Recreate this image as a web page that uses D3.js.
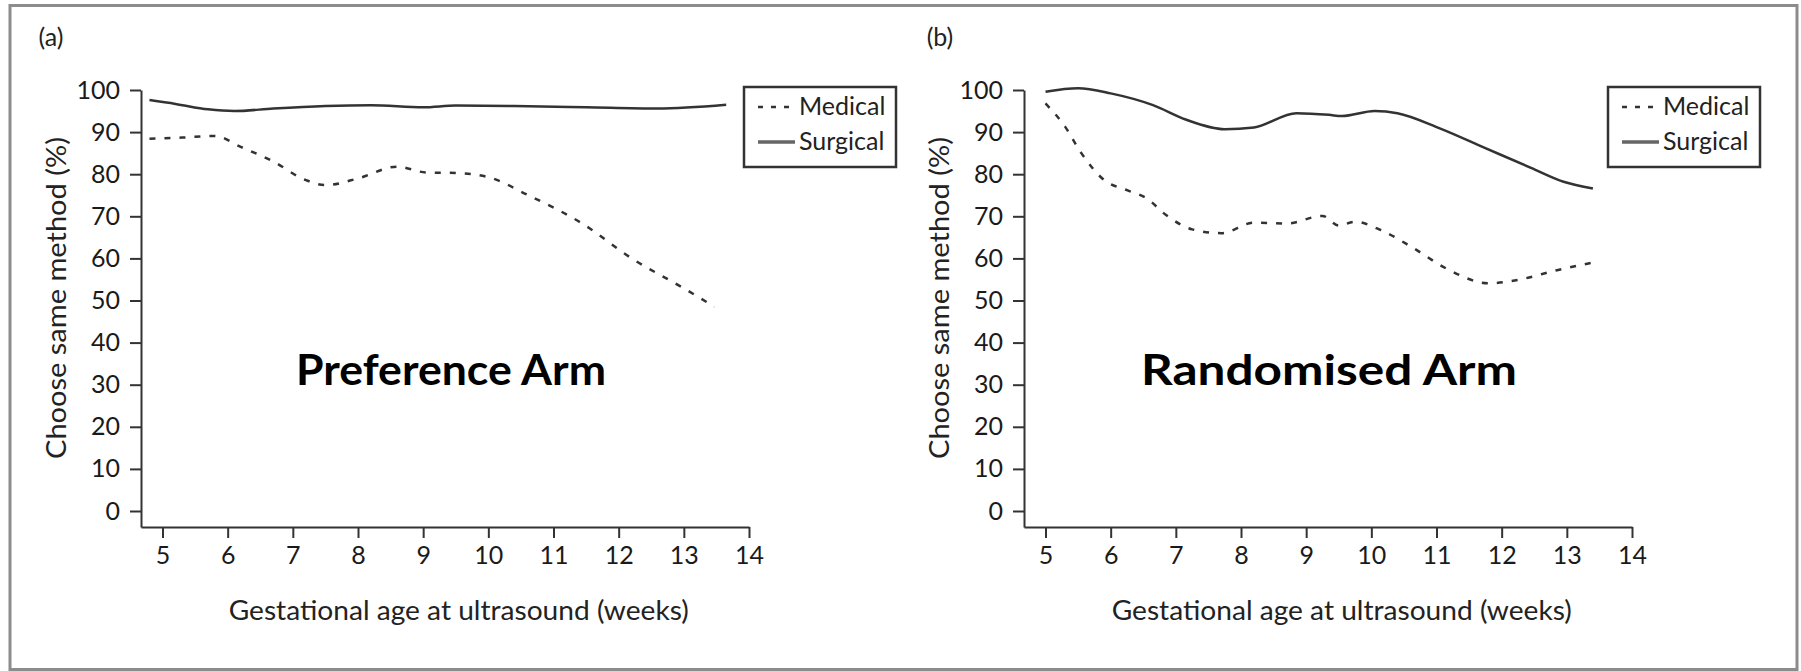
<!DOCTYPE html>
<html>
<head>
<meta charset="utf-8">
<script src="https://cdn.jsdelivr.net/npm/d3@7"></script>
<style>
  body { margin: 0; background: #fff; }
  svg { display: block; }
  .tick text { font-family: Lato, "Open Sans", sans-serif; fill: #1a1a1a; }
</style>
</head>
<body>
<script>
// data, weeks vs % choosing the same method again
var yTicks = [0, 10, 20, 30, 40, 50, 60, 70, 80, 90, 100];
var xTicks = [5, 6, 7, 8, 9, 10, 11, 12, 13, 14];
var seriesNames = ["Medical", "Surgical"];

// (a) preference arm
var prefSurgWeeks = [4.8, 5.2, 5.7, 6.1, 6.7, 7.5, 8.2, 9.0, 9.5, 10.4, 11.5, 12.6, 13.65];
var prefSurgVals  = [97.6, 96.7, 95.4, 95.0, 95.6, 96.2, 96.4, 95.9, 96.3, 96.2, 95.9, 95.6, 96.5];
var prefMedWeeks  = [4.8, 5.3, 5.8, 6.2, 6.7, 7.2, 7.5, 8.0, 8.6, 9.05, 9.5, 10.0, 10.6, 11.45, 12.2, 13.0, 13.47];
var prefMedVals   = [88.4, 88.7, 89.1, 86.5, 83.0, 78.6, 77.4, 79.0, 81.8, 80.4, 80.3, 79.3, 75.1, 68.2, 60.0, 52.9, 48.5];

// (b) randomised arm
var randSurgWeeks = [5.0, 5.5, 6.0, 6.65, 7.15, 7.75, 8.2, 8.85, 9.35, 9.55, 10.05, 10.4, 11.05, 11.75, 12.45, 12.95, 13.4];
var randSurgVals  = [99.6, 100.4, 99.2, 96.4, 93.0, 90.7, 91.1, 94.5, 94.1, 93.8, 95.0, 94.5, 90.9, 86.2, 81.5, 78.2, 76.6];
var randMedWeeks  = [5.0, 5.3, 5.55, 5.9, 6.25, 6.55, 6.85, 7.25, 7.7, 8.2, 8.7, 9.25, 9.5, 9.75, 10.15, 10.65, 11.15, 11.8, 12.25, 12.85, 13.4];
var randMedVals   = [96.8, 91.3, 85.0, 78.6, 76.2, 74.3, 70.3, 66.9, 66.0, 68.5, 68.3, 70.1, 67.8, 68.7, 66.7, 62.4, 57.6, 54.1, 54.9, 57.2, 59.0];

var width = 1801;
var height = 671;
var font = "Lato, 'Open Sans', sans-serif";
var ink = "#333";

var svg = d3.select("body").append("svg")
    .attr("width", width)
    .attr("height", height);

// grey frame round the whole figure
svg.append("rect")
    .attr("x", 10).attr("y", 5.5)
    .attr("width", 1787).attr("height", 664)
    .style("fill", "none")
    .style("stroke", "#8c8c8c")
    .style("stroke-width", 3);

function zip(xs, ys) {
    return xs.map(function (d, i) { return { w: d, v: ys[i] }; });
}

var panels = [
    {
        tag: "(a)", tagX: 51, left: 141, right: 749,
        title: "Preference Arm", titleX: 451, titleLen: 310,
        legendX: 744,
        medical: zip(prefMedWeeks, prefMedVals),
        surgical: zip(prefSurgWeeks, prefSurgVals)
    },
    {
        tag: "(b)", tagX: 940, left: 1024, right: 1632,
        title: "Randomised Arm", titleX: 1329, titleLen: 376,
        legendX: 1608,
        medical: zip(randMedWeeks, randMedVals),
        surgical: zip(randSurgWeeks, randSurgVals)
    }
];

panels.forEach(function (p) {
    var x = d3.scaleLinear().domain([4.67, 14]).range([p.left, p.right]);
    var y = d3.scaleLinear().domain([-3.8, 100]).range([527, 90]);

    var g = svg.append("g");

    g.append("text")
        .attr("x", p.tagX).attr("y", 46)
        .attr("text-anchor", "middle")
        .style("font-family", font).style("font-size", "25px").style("fill", "#222")
        .text(p.tag);

    var yAxis = g.append("g")
        .attr("transform", "translate(" + p.left + ",0)")
        .call(d3.axisLeft(y).tickValues(yTicks).tickSize(11).tickSizeOuter(0).tickPadding(10));
    var xAxis = g.append("g")
        .attr("transform", "translate(0,527)")
        .call(d3.axisBottom(x).tickValues(xTicks).tickSize(11).tickSizeOuter(0).tickPadding(8));

    [yAxis, xAxis].forEach(function (a) {
        a.select(".domain").style("stroke", ink).style("stroke-width", 2);
        a.selectAll(".tick line").style("stroke", ink).style("stroke-width", 2);
        a.selectAll(".tick text").style("font-size", "25px");
    });

    // axis titles
    g.append("text")
        .attr("x", (x(5) + x(14)) / 2 + 3).attr("y", 620)
        .attr("text-anchor", "middle")
        .attr("textLength", 460).attr("lengthAdjust", "spacingAndGlyphs")
        .style("font-family", font).style("font-size", "26px").style("fill", "#222")
        .text("Gestational age at ultrasound (weeks)");
    g.append("text")
        .attr("transform", "translate(" + (p.left - 84) + ",298) rotate(-90)")
        .attr("text-anchor", "middle")
        .attr("dy", "0.35em")
        .attr("textLength", 322).attr("lengthAdjust", "spacingAndGlyphs")
        .style("font-family", font).style("font-size", "26px").style("fill", "#222")
        .text("Choose same method (%)");

    var line = d3.line()
        .x(function (d) { return x(d.w); })
        .y(function (d) { return y(d.v); })
        .curve(d3.curveMonotoneX);

    g.append("path")
        .datum(p.surgical)
        .attr("d", line)
        .style("fill", "none").style("stroke", ink).style("stroke-width", 2.5);
    g.append("path")
        .datum(p.medical)
        .attr("d", line)
        .style("fill", "none").style("stroke", ink).style("stroke-width", 2.5)
        .style("stroke-dasharray", "6,9");

    // big overlay label
    g.append("text")
        .attr("x", p.titleX).attr("y", 385)
        .attr("text-anchor", "middle")
        .attr("textLength", p.titleLen).attr("lengthAdjust", "spacingAndGlyphs")
        .style("font-family", font).style("font-weight", "bold")
        .style("font-size", "42px").style("fill", "#000")
        .text(p.title);

    // legend
    var lg = g.append("g").attr("transform", "translate(" + p.legendX + ",87)");
    lg.append("rect")
        .attr("width", 152).attr("height", 80)
        .style("fill", "#fff").style("stroke", ink).style("stroke-width", 2.5);
    lg.selectAll("line").data(seriesNames).enter().append("line")
        .attr("x1", 14).attr("x2", 51)
        .attr("y1", function (d, i) { return 20 + i * 35; })
        .attr("y2", function (d, i) { return 20 + i * 35; })
        .style("stroke", function (d, i) { return i ? "#666" : ink; })
        .style("stroke-width", function (d, i) { return i ? 3.5 : 2.5; })
        .style("stroke-dasharray", function (d, i) { return i ? null : "5,8"; });
    lg.selectAll("text").data(seriesNames).enter().append("text")
        .attr("x", 55)
        .attr("y", function (d, i) { return 28 + i * 35; })
        .style("font-family", font).style("font-size", "25px").style("fill", "#222")
        .text(function (d) { return d; });
});
</script>
</body>
</html>
